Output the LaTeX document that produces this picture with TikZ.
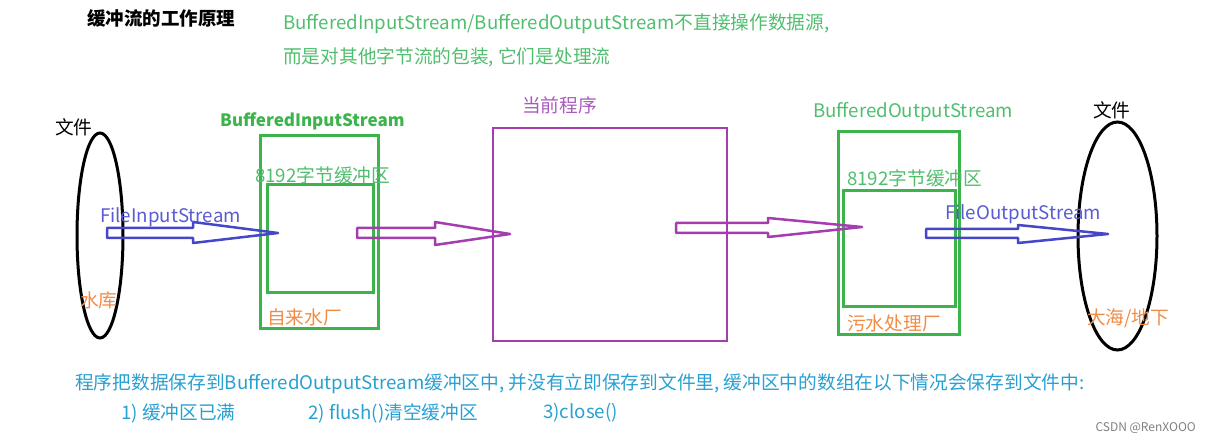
\documentclass[tikz,border=0pt]{standalone}
\usepackage{fontspec}
\setmainfont{Noto Sans CJK SC}
\usetikzlibrary{shapes.geometric}
\definecolor{gline}{RGB}{60,180,75}
\definecolor{gtext}{RGB}{80,190,110}
\definecolor{pline}{RGB}{165,60,175}
\definecolor{ptext}{RGB}{170,90,190}
\definecolor{bline}{RGB}{70,70,200}
\definecolor{btext}{RGB}{90,90,210}
\definecolor{otext}{RGB}{240,140,70}
\definecolor{ctext}{RGB}{40,160,210}
\begin{document}
\begin{tikzpicture}[x=1pt,y=-1pt,
  lbl/.style={inner sep=0pt,anchor=west,font=\fontsize{18.7}{20}\selectfont},
  boxg/.style={draw=gline,line width=3pt,inner sep=0pt},
  boxp/.style={draw=pline,line width=2pt,inner sep=0pt},
  oval/.style={draw=black,line width=3pt,ellipse,inner sep=0pt},
  arrb/.style={draw=bline,line width=2.5pt,line join=round},
  arrp/.style={draw=pline,line width=2.5pt,line join=round}]
\useasboundingbox (0,0) rectangle (1208,443);
% ellipses
\node[oval,minimum width=46,minimum height=205] (srcfile) at (100,235.5) {};
\node[oval,minimum width=79,minimum height=228] (dstfile) at (1117.5,236) {};
% boxes
\node[boxg,minimum width=118,minimum height=193] (bin) at (319,232.5) {};
\node[boxg,minimum width=106,minimum height=108] (binbuf) at (320,239) {};
\node[boxp,minimum width=234,minimum height=213] (prog) at (610,234.5) {};
\node[boxg,minimum width=121,minimum height=203] (bout) at (898.5,233.5) {};
\node[boxg,minimum width=112,minimum height=116] (boutbuf) at (899,249) {};
% block arrows
\draw[arrb] (107,228) -- (193,228) -- (193,222) -- (278,233) -- (193,243) -- (193,238) -- (107,238) -- cycle;
\draw[arrp] (357,228) -- (435,228) -- (435,222) -- (510,234) -- (435,245) -- (435,238) -- (357,238) -- cycle;
\draw[arrp] (676,223) -- (768,223) -- (768,218) -- (862,227) -- (768,237) -- (768,233) -- (676,233) -- cycle;
\draw[arrb] (926,229) -- (1018,229) -- (1018,225) -- (1108,234) -- (1018,243) -- (1018,238) -- (926,238) -- cycle;
% texts
\node[lbl,font=\fontsize{18.5}{20}\selectfont\bfseries] (title) at (87,18) {缓冲流的工作原理};
\node[lbl,text=gtext] (h1) at (283,24) {BufferedInputStream/BufferedOutputStream不直接操作数据源,};
\node[lbl,text=gtext] (h2) at (283,57) {而是对其他字节流的包装, 它们是处理流};
\node[lbl] (f1) at (55,127) {文件};
\node[lbl,text=otext] (res) at (80,300) {水库};
\node[lbl,text=btext] (fis) at (100,217) {FileInputStream};
\node[lbl,text=gline,font=\fontsize{17}{20}\selectfont\bfseries] (bisl) at (220,121) {BufferedInputStream};
\node[lbl,text=gtext] (buf1) at (255,175) {8192字节缓冲区};
\node[lbl,text=otext] (water) at (267,317) {自来水厂};
\node[lbl,text=ptext] (progl) at (522,105) {当前程序};
\node[lbl,text=gtext] (bosl) at (813,112) {BufferedOutputStream};
\node[lbl,text=gtext] (buf2) at (847,178) {8192字节缓冲区};
\node[lbl,text=otext] (sew) at (847,323) {污水处理厂};
\node[lbl,text=btext] (fos) at (945,214) {FileOutputStream};
\node[lbl] (f2) at (1093,110) {文件};
\node[lbl,text=otext] (sea) at (1087,318) {大海/地下};
\node[lbl,text=ctext] (b1) at (75,384) {程序把数据保存到BufferedOutputStream缓冲区中, 并没有立即保存到文件里, 缓冲区中的数组在以下情况会保存到文件中:};
\node[lbl,text=ctext] (i1) at (121,413) {1) 缓冲区已满};
\node[lbl,text=ctext] (i2) at (308,413) {2) flush()清空缓冲区};
\node[lbl,text=ctext] (i3) at (543,413) {3)close()};
\node[inner sep=0pt,anchor=east,text=gray,font=\fontsize{12}{14}\selectfont] (wm) at (1196,428) {CSDN @RenXOOO};
\end{tikzpicture}
\end{document}
